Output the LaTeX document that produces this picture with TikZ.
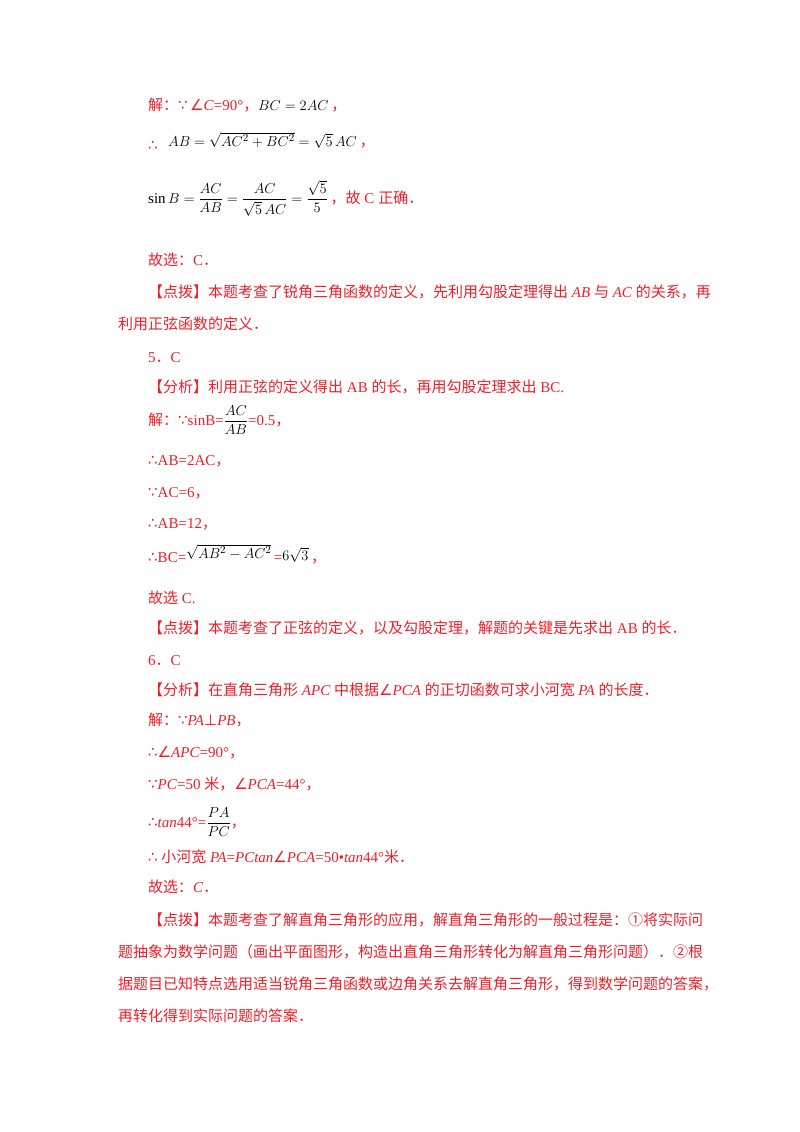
\documentclass[tikz,border=0pt]{standalone}
\usepackage{amsmath}
\usepackage{fontspec}
\setmainfont{Liberation Serif}
\newfontfamily\zhf{Noto Sans CJK SC}
\newfontfamily\syf{DejaVu Sans}
\newcommand{\zh}[1]{{\zhf #1}}
\newcommand{\sy}[1]{{\syf #1}}
\definecolor{rd}{RGB}{240,30,40}
\begin{document}
\begin{tikzpicture}[x=1pt,y=-1pt,
  t/.style={anchor=base west,inner sep=0pt,font=\fontsize{15}{18}\selectfont,text=rd},
  m/.style={anchor=base west,inner sep=0pt,font=\fontsize{15}{18}\selectfont,text=black}]
\useasboundingbox (0,0) rectangle (800,1132);
\node[t] (l1) at (148,110) {\zh{解：}\sy{∵}\,\sy{∠}\textit{C}=90°\zh{，}};
\node[m] (l1m) at (258,110) {$BC=2AC$};
\node[t] (l1c) at (l1m.base east) {\,\zh{，}};
\node[t] (l2) at (148,150) {\sy{∴}};
\node[m] (l2m) at (168,146) {$AB=\sqrt{AC^2+BC^2}=\sqrt5\,AC$};
\node[t] (l2c) at (l2m.base east) {\,\zh{，}};
\node[m] (l3m) at (148,203) {$\sin B=\dfrac{AC}{AB}=\dfrac{AC}{\sqrt5\,AC}=\dfrac{\sqrt5}{5}$};
\node[t] (l3c) at (l3m.base east) {\,\zh{，故} C \zh{正确．}};
\node[t] (l4) at (148,265) {\zh{故选：}C\zh{．}};
\node[t] (l5) at (148,297) {\zh{【点拨】本题考查了锐角三角函数的定义，先利用勾股定理得出} \textit{AB} \zh{与} \textit{AC} \zh{的关系，再}};
\node[t] (l6) at (118,329) {\zh{利用正弦函数的定义．}};
\node[t] (l7) at (148,362) {5\zh{．}C};
\node[t] (l8) at (148,392) {\zh{【分析】利用正弦的定义得出} AB \zh{的长，再用勾股定理求出} BC.};
\node[t] (l9) at (148,425) {\zh{解：}\sy{∵}sinB=\textcolor{black}{$\dfrac{AC}{AB}$}=0.5\zh{，}};
\node[t] (l10) at (148,465) {\sy{∴}AB=2AC\zh{，}};
\node[t] (l11) at (148,497) {\sy{∵}AC=6\zh{，}};
\node[t] (l12) at (148,528) {\sy{∴}AB=12\zh{，}};
\node[t] (l13) at (148,562) {\sy{∴}BC=\raisebox{4pt}{\textcolor{black}{$\sqrt{AB^2-AC^2}$}}\,=\raisebox{2pt}{\textcolor{black}{$6\sqrt3$}}\,\zh{，}};
\node[t] (l14) at (148,603) {\zh{故选} C.};
\node[t] (l15) at (148,633) {\zh{【点拨】本题考查了正弦的定义，以及勾股定理，解题的关键是先求出} AB \zh{的长．}};
\node[t] (l16) at (148,665) {6\zh{．}C};
\node[t] (l17) at (148,695) {\zh{【分析】在直角三角形} \textit{APC} \zh{中根据}\sy{∠}\textit{PCA} \zh{的正切函数可求小河宽} \textit{PA} \zh{的长度．}};
\node[t] (l18) at (148,725) {\zh{解：}\sy{∵}\textit{PA}\sy{⊥}\textit{PB}\zh{，}};
\node[t] (l19) at (148,757) {\sy{∴}\sy{∠}\textit{APC}=90°\zh{，}};
\node[t] (l20) at (148,789) {\sy{∵}\textit{PC}=50 \zh{米，}\sy{∠}\textit{PCA}=44°\zh{，}};
\node[t] (l21) at (148,827) {\sy{∴}\textit{tan}44°=\textcolor{black}{$\dfrac{PA}{PC}$}\zh{，}};
\node[t] (l22) at (148,862) {\sy{∴} \zh{小河宽} \textit{PA}=\textit{PCtan}\sy{∠}\textit{PCA}=50•\textit{tan}44°\zh{米．}};
\node[t] (l23) at (148,892) {\zh{故选：}\textit{C}\zh{．}};
\node[t] (l24) at (148,925) {\zh{【点拨】本题考查了解直角三角形的应用，解直角三角形的一般过程是：①将实际问}};
\node[t] (l25) at (118,957) {\zh{题抽象为数学问题（画出平面图形，构造出直角三角形转化为解直角三角形问题）．②根}};
\node[t] (l26) at (118,989) {\zh{据题目已知特点选用适当锐角三角函数或边角关系去解直角三角形，得到数学问题的答案，}};
\node[t] (l27) at (118,1021) {\zh{再转化得到实际问题的答案．}};
\end{tikzpicture}
\end{document}
